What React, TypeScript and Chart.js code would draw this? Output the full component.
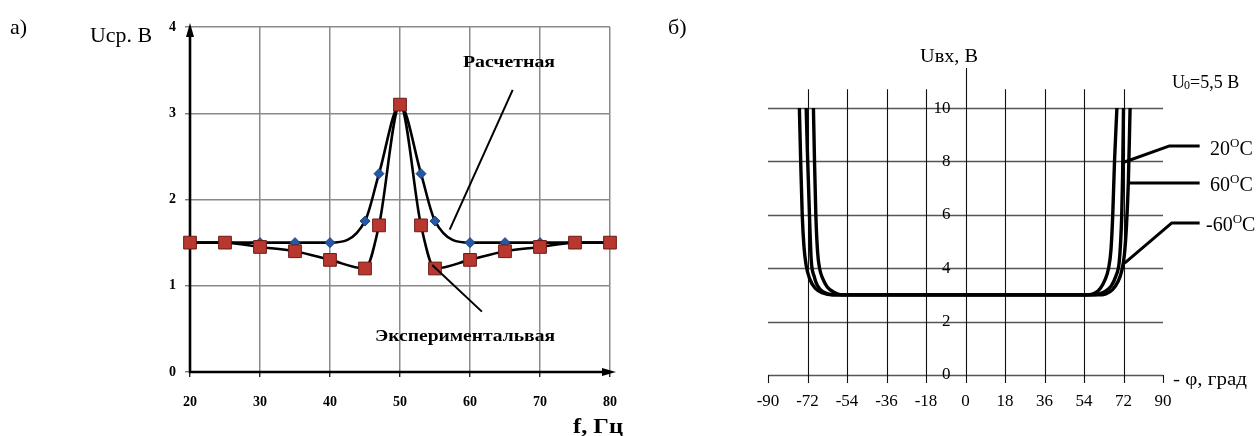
import React, { useEffect, useRef } from "react";
import { Chart, registerables } from "chart.js";

Chart.register(...registerables);

// ---------- Chart a) data ----------
const freqHz = [20, 25, 30, 35, 40, 45, 47, 50, 53, 55, 60, 65, 70, 75, 80];
const calcU = [1.5, 1.5, 1.5, 1.5, 1.5, 1.75, 2.3, 3.1, 2.3, 1.75, 1.5, 1.5, 1.5, 1.5, 1.5];
const expU = [1.5, 1.5, 1.45, 1.4, 1.3, 1.2, 1.7, 3.1, 1.7, 1.2, 1.3, 1.4, 1.45, 1.5, 1.5];
const aXTicks = [20, 30, 40, 50, 60, 70, 80];
const aYTicks = [0, 1, 2, 3, 4];
// leader lines (data coordinates)
const calcLeaderX = [66.1, 57.1];
const calcLeaderY = [3.27, 1.65];
const expLeaderX = [54.6, 61.7];
const expLeaderY = [1.24, 0.7];

// ---------- Chart б) data ----------
const curve20Phi = [-72.6, -72.1, -71.5, -70.9, -70.3, -69, -67.5, -65, -62, -59, 0, 58, 61, 64, 66.5, 68.5, 70, 70.7, 71.2, 71.6, 72];
const curve20U = [10, 8.5, 7, 5.5, 4.3, 3.7, 3.35, 3.12, 3.03, 3, 3, 3, 3.04, 3.15, 3.35, 3.7, 4.2, 5, 6, 7.5, 10];
const curve60Phi = [-69.3, -68.8, -68.2, -67.4, -66.5, -65, -63, -60, -56.5, 0, 60, 64, 67, 69.5, 71.2, 72.4, 73.3, 74.2, 75];
const curve60U = [10, 8, 6, 4.6, 4, 3.6, 3.3, 3.1, 3, 3, 3, 3.04, 3.2, 3.5, 3.9, 4.5, 5.5, 7.2, 10];
const curveM60Phi = [-75.7, -75.1, -74.4, -73.6, -72.6, -71, -68.5, -65, -61, 0, 55.6, 59, 61.5, 63.5, 65.2, 66.3, 67.1, 67.9, 69];
const curveM60U = [10, 8, 6, 4.8, 4.1, 3.6, 3.25, 3.07, 3, 3, 3, 3.07, 3.25, 3.55, 4, 4.7, 6, 8, 10];
const bXTicks = [-90, -72, -54, -36, -18, 0, 18, 36, 54, 72, 90];
const bYTicks = [0, 2, 4, 6, 8, 10];
const tempLabels = ["20", "60", "-60"];
// leader lines (data coordinates)
const lead20Phi = [72.5, 93, 106.7];
const lead20U = [7.98, 8.58, 8.58];
const lead60Phi = [74.7, 106.7];
const lead60U = [7.19, 7.19];
const leadM60Phi = [72.5, 93.9, 106.7];
const leadM60U = [4.19, 5.69, 5.69];

const SERIF = '"Liberation Serif", "Times New Roman", serif';

const toPts = (xs: number[], ys: number[]) => xs.map((x, i) => ({ x, y: ys[i] }));

function fitText(ctx: CanvasRenderingContext2D, text: string, x: number, y: number, font: string, align: string, width?: number) {
  ctx.save();
  ctx.font = font;
  ctx.textBaseline = "middle";
  ctx.textAlign = "left";
  ctx.fillStyle = "#000";
  const w = ctx.measureText(text).width;
  const sx = width ? width / w : 1;
  const left = align === "center" ? x - (w * sx) / 2 : align === "right" ? x - w * sx : x;
  ctx.translate(left, y);
  ctx.scale(sx, 1);
  ctx.fillText(text, 0, 0);
  ctx.restore();
}

function polyline(chart: any, xs: number[], ys: number[], width: number) {
  const { ctx, scales } = chart;
  ctx.save();
  ctx.strokeStyle = "#000";
  ctx.lineWidth = width;
  ctx.lineJoin = "round";
  ctx.beginPath();
  xs.forEach((v, i) => {
    const px = scales.x.getPixelForValue(v);
    const py = scales.y.getPixelForValue(ys[i]);
    if (i === 0) ctx.moveTo(px, py);
    else ctx.lineTo(px, py);
  });
  ctx.stroke();
  ctx.restore();
}

const plugA = {
  id: "plugA",
  beforeDatasetsDraw(chart: any) {
    const { ctx, scales } = chart;
    const x0 = scales.x.getPixelForValue(20);
    const y0 = scales.y.getPixelForValue(0);
    const yTop = scales.y.getPixelForValue(4);
    const xEnd = scales.x.getPixelForValue(80);
    ctx.save();
    ctx.strokeStyle = "#000";
    ctx.fillStyle = "#000";
    ctx.lineWidth = 2.6;
    ctx.beginPath();
    ctx.moveTo(x0, y0 + 1);
    ctx.lineTo(x0, yTop + 6);
    ctx.moveTo(x0 - 1, y0);
    ctx.lineTo(xEnd, y0);
    ctx.stroke();
    // arrow heads
    ctx.beginPath();
    ctx.moveTo(x0, yTop - 4);
    ctx.lineTo(x0 - 4, yTop + 10);
    ctx.lineTo(x0 + 4, yTop + 10);
    ctx.closePath();
    ctx.fill();
    ctx.beginPath();
    ctx.moveTo(xEnd + 6, y0);
    ctx.lineTo(xEnd - 8, y0 - 4);
    ctx.lineTo(xEnd - 8, y0 + 4);
    ctx.closePath();
    ctx.fill();
    ctx.restore();
  },
  afterDraw(chart: any) {
    const { ctx } = chart;
    polyline(chart, calcLeaderX, calcLeaderY, 2);
    polyline(chart, expLeaderX, expLeaderY, 2);
    fitText(ctx, "а)", 10, 28, `22px ${SERIF}`, "left");
    fitText(ctx, "Uср. В", 90, 36, `22px ${SERIF}`, "left", 62);
    fitText(ctx, "Расчетная", 509, 63, `bold 16px ${SERIF}`, "center", 92);
    fitText(ctx, "Экспериментальвая", 465, 337, `bold 16px ${SERIF}`, "center", 180);
    fitText(ctx, "f, Гц", 598, 428, `bold 21px ${SERIF}`, "center", 50);
  },
};

const bGridTop = 10.7;

function tempLabel(ctx: CanvasRenderingContext2D, num: string, x: number, cy: number) {
  ctx.save();
  ctx.fillStyle = "#000";
  ctx.textBaseline = "alphabetic";
  ctx.textAlign = "left";
  const base = cy + 7;
  ctx.font = `20px ${SERIF}`;
  ctx.fillText(num, x, base);
  let cx = x + ctx.measureText(num).width;
  ctx.font = `13px ${SERIF}`;
  ctx.fillText("O", cx, base - 8);
  cx += ctx.measureText("O").width;
  ctx.font = `20px ${SERIF}`;
  ctx.fillText("C", cx, base);
  ctx.restore();
}

const plugB = {
  id: "plugB",
  beforeDatasetsDraw(chart: any) {
    const { ctx, scales, chartArea } = chart;
    const { x, y } = scales;
    const y0 = y.getPixelForValue(0);
    const xl = x.getPixelForValue(-90);
    const xr = x.getPixelForValue(90);
    ctx.save();
    // horizontal grid
    ctx.strokeStyle = "#555";
    ctx.lineWidth = 1.4;
    bYTicks.forEach((v) => {
      const py = Math.round(y.getPixelForValue(v)) + 0.5;
      ctx.beginPath();
      ctx.moveTo(xl, py);
      ctx.lineTo(xr, py);
      ctx.stroke();
    });
    // vertical grid
    ctx.strokeStyle = "#111";
    ctx.lineWidth = 1.1;
    const yt = y.getPixelForValue(bGridTop);
    bXTicks.forEach((v) => {
      const px = Math.round(x.getPixelForValue(v)) + 0.5;
      ctx.beginPath();
      ctx.moveTo(px, y0 + 8);
      if (v === 0) ctx.lineTo(px, chartArea.top);
      else if (v === -90 || v === 90) ctx.lineTo(px, y0);
      else ctx.lineTo(px, yt);
      ctx.stroke();
    });
    ctx.restore();
    // y labels
    const ax = x.getPixelForValue(0);
    bYTicks.forEach((v) => {
      fitText(ctx, String(v), ax - 15, y.getPixelForValue(v), `17px ${SERIF}`, "right");
    });
  },
  afterDraw(chart: any) {
    const { ctx } = chart;
    polyline(chart, lead20Phi, lead20U, 3);
    polyline(chart, lead60Phi, lead60U, 3);
    polyline(chart, leadM60Phi, leadM60U, 3);
    fitText(ctx, "б)", 28, 28, `22px ${SERIF}`, "left");
    fitText(ctx, "Uвх, В", 309, 57, `18px ${SERIF}`, "center", 58);
    // U0=5,5 В
    ctx.save();
    ctx.fillStyle = "#000";
    ctx.textBaseline = "alphabetic";
    ctx.textAlign = "left";
    let cx = 532;
    const base = 88;
    ctx.font = `18px ${SERIF}`;
    ctx.fillText("U", cx, base);
    cx += ctx.measureText("U").width - 1;
    ctx.font = `12px ${SERIF}`;
    ctx.fillText("0", cx, base + 1);
    cx += ctx.measureText("0").width;
    ctx.font = `18px ${SERIF}`;
    ctx.fillText("=5,5 В", cx, base);
    ctx.restore();
    tempLabel(ctx, tempLabels[0], 570, 148);
    tempLabel(ctx, tempLabels[1], 570, 184);
    tempLabel(ctx, tempLabels[2], 566, 224);
    fitText(ctx, "- φ, град", 533, 380, `18px ${SERIF}`, "left", 74);
  },
};

export default function App() {
  const refA = useRef<HTMLCanvasElement>(null);
  const refB = useRef<HTMLCanvasElement>(null);

  useEffect(() => {
    const tickFont = { family: SERIF, size: 14, weight: "bold" as const };
    const chartA = new Chart(refA.current as HTMLCanvasElement, {
      type: "line",
      data: {
        datasets: [
          {
            label: "Экспериментальная",
            data: toPts(freqHz, expU),
            borderColor: "#000",
            borderWidth: 2.6,
            pointStyle: "rect",
            pointRadius: 9,
            pointBackgroundColor: "#b8372f",
            pointBorderColor: "#6e1a16",
            pointBorderWidth: 1,
            cubicInterpolationMode: "monotone",
            clip: false,
            order: 0,
          },
          {
            label: "Расчетная",
            data: toPts(freqHz, calcU),
            borderColor: "#000",
            borderWidth: 2.6,
            pointStyle: "rectRot",
            pointRadius: 5,
            pointBackgroundColor: "#2559a8",
            pointBorderColor: "#1a3f7a",
            pointBorderWidth: 1,
            cubicInterpolationMode: "monotone",
            clip: false,
            order: 1,
          },
        ],
      },
      options: {
        responsive: false,
        animation: false,
        layout: { padding: { left: 0, right: 30, top: 27, bottom: 0 } },
        plugins: { legend: { display: false }, tooltip: { enabled: false } },
        scales: {
          x: {
            type: "linear",
            min: 20,
            max: 80,
            afterBuildTicks: (s: any) => {
              s.ticks = aXTicks.map((v) => ({ value: v }));
            },
            afterFit: (s: any) => {
              s.height = 64;
            },
            grid: { color: "#8a8a8a", lineWidth: 1.5, tickLength: 5, tickColor: "#000", tickWidth: 1.2 },
            border: { display: false },
            ticks: { font: tickFont, color: "#000", padding: 17, maxRotation: 0, autoSkip: false },
          },
          y: {
            type: "linear",
            min: 0,
            max: 4,
            afterBuildTicks: (s: any) => {
              s.ticks = aYTicks.map((v) => ({ value: v }));
            },
            afterFit: (s: any) => {
              s.width = 190;
            },
            grid: { color: "#8a8a8a", lineWidth: 1.5, tickLength: 5, tickColor: "#666", tickWidth: 1.2 },
            border: { display: false },
            ticks: { font: { family: SERIF, size: 14, weight: "bold" as const }, color: "#000", padding: 9 },
          },
        },
      },
      plugins: [plugA],
    } as any);

    const curveStyle = {
      borderColor: "#000",
      borderWidth: 3.4,
      pointRadius: 0,
      cubicInterpolationMode: "monotone",
      clip: false,
    };
    const chartB = new Chart(refB.current as HTMLCanvasElement, {
      type: "line",
      data: {
        datasets: [
          { label: "20°C", data: toPts(curve20Phi, curve20U), ...curveStyle },
          { label: "60°C", data: toPts(curve60Phi, curve60U), ...curveStyle },
          { label: "-60°C", data: toPts(curveM60Phi, curveM60U), ...curveStyle },
        ],
      },
      options: {
        responsive: false,
        animation: false,
        layout: { padding: { left: 128, right: 97, top: 68, bottom: 0 } },
        plugins: { legend: { display: false }, tooltip: { enabled: false } },
        scales: {
          x: {
            type: "linear",
            min: -90,
            max: 90,
            afterBuildTicks: (s: any) => {
              s.ticks = bXTicks.map((v) => ({ value: v }));
            },
            afterFit: (s: any) => {
              s.height = 61;
            },
            grid: { display: false, drawTicks: false },
            border: { display: false },
            ticks: { font: { family: SERIF, size: 17 }, color: "#000", padding: 16, maxRotation: 0, autoSkip: false },
          },
          y: { type: "linear", min: 0, max: 11.5, display: false },
        },
      },
      plugins: [plugB],
    } as any);

    return () => {
      chartA.destroy();
      chartB.destroy();
    };
  }, []);

  return (
    <div style={{ position: "absolute", left: 0, top: 0, width: 1260, height: 436, background: "#fff" }}>
      <canvas ref={refA} width={640} height={436} style={{ position: "absolute", left: 0, top: 0 }} />
      <canvas ref={refB} width={620} height={436} style={{ position: "absolute", left: 640, top: 0 }} />
    </div>
  );
}
